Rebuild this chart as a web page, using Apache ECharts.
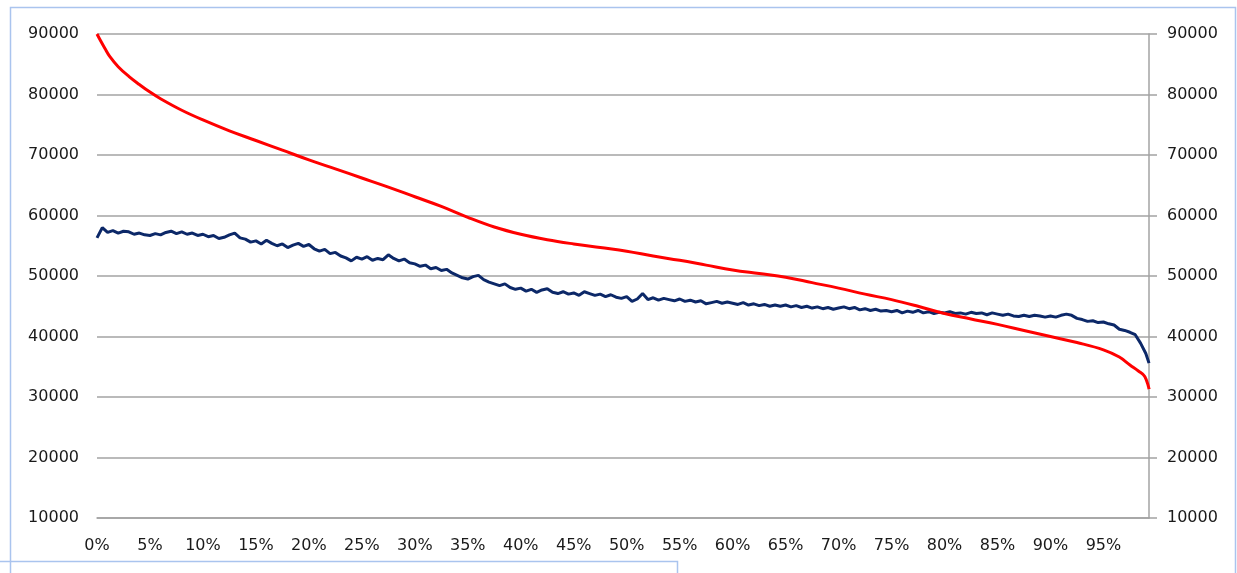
<!DOCTYPE html>
<html>
<head>
<meta charset="utf-8">
<script src="https://cdn.jsdelivr.net/npm/echarts@6/dist/echarts.min.js"></script>
<style>
  html, body { margin: 0; padding: 0; background: #fff; }
  #chart { width: 1237px; height: 573px; }
</style>
</head>
<body>
<div id="chart"></div>
<script>
// y-axis ticks (same on both sides)
const yTicks = [10000, 20000, 30000, 40000, 50000, 60000, 70000, 80000, 90000];
// x-axis labels every 5%
const xTickStep = 5;
const xMax = 99.3;

// red curve: percent -> value
const redX = [0, 0.3, 0.75, 1.2, 2, 3, 4, 5, 6, 8, 10, 12.5, 15, 17.5, 20, 22.5, 25, 27.5, 30, 32.5, 35, 37.5, 40, 42.5, 45, 47.5, 50, 52.5, 55, 57.5, 60, 62.5, 65, 67.5, 70, 72.5, 75, 77.5, 80, 82.5, 85, 87.5, 90, 92.5, 95, 96.5, 97.5, 98.3, 98.9, 99.3];
const redY = [90000, 89000, 87600, 86300, 84600, 83000, 81650, 80400, 79300, 77400, 75800, 74000, 72400, 70800, 69200, 67700, 66200, 64700, 63100, 61500, 59700, 58100, 56900, 56000, 55300, 54700, 54100, 53300, 52600, 51800, 51000, 50400, 49800, 48900, 48000, 47000, 46100, 45000, 43800, 42900, 42000, 41000, 40000, 39000, 37800, 36600, 35300, 34300, 33400, 31300];

// blue line: one value every 0.5% from 0% to 99%, then the last point
const blueStep = 0.5;
const blueY = [
  56300, 58000, 57200, 57500, 57100, 57400, 57300, 56900, 57100, 56800,
  56700, 57000, 56800, 57200, 57400, 57000, 57300, 56900, 57100, 56700,
  56900, 56500, 56700, 56200, 56400, 56800, 57100, 56300, 56100, 55600,
  55800, 55300, 55900, 55400, 55000, 55300, 54700, 55100, 55400, 54900,
  55200, 54500, 54100, 54400, 53700, 53900, 53300, 53000, 52500, 53100,
  52800, 53200, 52600, 52900, 52700, 53500, 52900, 52500, 52800, 52200,
  52000, 51600, 51800, 51200, 51400, 50900, 51100, 50500, 50100, 49700,
  49500, 49900, 50100, 49400, 49000, 48700, 48400, 48700, 48100, 47800,
  48000, 47500, 47800, 47300, 47700, 47900, 47300, 47100, 47400, 47000,
  47200, 46800, 47400, 47100, 46800, 47000, 46600, 46900, 46500, 46300,
  46600, 45800, 46200, 47100, 46100, 46400, 46000, 46300, 46100, 45900,
  46200, 45800, 46000, 45700, 45900, 45400, 45600, 45800, 45500, 45700,
  45500, 45300, 45600, 45200, 45400, 45100, 45300, 45000, 45200, 45000,
  45200, 44900, 45100, 44800, 45000, 44700, 44900, 44600, 44800, 44500,
  44700, 44900, 44600, 44800, 44400, 44600, 44300, 44500, 44200, 44300,
  44100, 44300, 43900, 44200, 44000, 44300, 43900, 44100, 43800, 44000,
  43900, 44100, 43800, 43900, 43700, 44000, 43800, 43900, 43600, 43900,
  43700, 43500, 43700, 43400, 43300, 43500, 43300, 43500, 43400, 43200,
  43400, 43200, 43500, 43700, 43500, 43000, 42800, 42500, 42600, 42300,
  42400, 42100, 41900, 41200, 41000, 40700, 40300, 38900, 37200
];
const blueLast = [99.3, 35600];

const redData = redX.map((x, i) => [x, redY[i]]);
const blueData = blueY.map((v, i) => [i * blueStep, v]);
blueData.push(blueLast);

const labelFont = { fontFamily: "DejaVu Sans", fontSize: 16, color: "#1a1a1a" };
const gridGray = "#a3a3a3";
const frameBlue = "#aac4ee";

let chart = echarts.init(document.getElementById("chart"));
chart.setOption({
  animation: false,
  grid: { left: 97, right: 88, top: 34, bottom: 55 },
  xAxis: {
    type: "value",
    min: 0,
    max: xMax,
    interval: xTickStep,
    axisLine: { show: true, lineStyle: { color: gridGray, width: 1.5 } },
    axisTick: { show: false },
    splitLine: { show: false },
    axisLabel: Object.assign({
      margin: 20,
      showMaxLabel: false,
      formatter: v => v + "%"
    }, labelFont)
  },
  yAxis: [
    {
      type: "value",
      min: yTicks[0],
      max: yTicks[yTicks.length - 1],
      interval: 10000,
      axisLine: { show: false },
      axisTick: { show: false },
      splitLine: { show: true, lineStyle: { color: gridGray, width: 1.5 } },
      axisLabel: Object.assign({ margin: 18, formatter: v => String(v) }, labelFont)
    },
    {
      type: "value",
      position: "right",
      min: yTicks[0],
      max: yTicks[yTicks.length - 1],
      interval: 10000,
      axisLine: { show: true, lineStyle: { color: gridGray, width: 1.5 } },
      axisTick: { show: true, length: 8, lineStyle: { color: gridGray, width: 1.5 } },
      splitLine: { show: false },
      axisLabel: Object.assign({ margin: 18, formatter: v => String(v) }, labelFont)
    }
  ],
  series: [
    {
      type: "line",
      data: blueData,
      showSymbol: false,
      lineStyle: { color: "#0c2868", width: 3 },
      z: 2
    },
    {
      type: "line",
      data: redData,
      showSymbol: false,
      smooth: 0.4,
      lineStyle: { color: "#ff0000", width: 3 },
      z: 3
    }
  ],
  graphic: [
    {
      type: "polyline",
      shape: { points: [[10.5, 573], [10.5, 7.5], [1235.5, 7.5], [1235.5, 573]] },
      style: { stroke: frameBlue, fill: null, lineWidth: 1.5 }
    },
    {
      type: "polyline",
      shape: { points: [[0, 561.5], [677.5, 561.5], [677.5, 573]] },
      style: { stroke: frameBlue, fill: null, lineWidth: 1.5 }
    }
  ]
});
</script>
</body>
</html>
